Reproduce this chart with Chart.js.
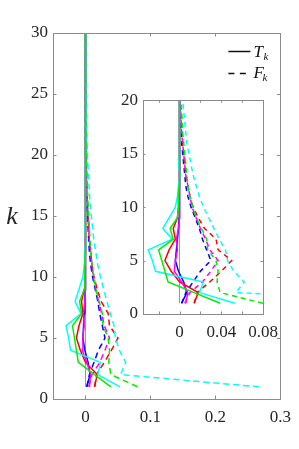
<!DOCTYPE html>
<html>
<head>
<meta charset="utf-8">
<script src="https://cdn.jsdelivr.net/npm/chart.js@4"></script>
<style>
  html, body { margin: 0; padding: 0; background: #fff; }
  #wrap { position: relative; width: 299px; height: 449px; overflow: hidden; }
  #mainChart { position: absolute; left: 0; top: 0; }
  #insetChart { position: absolute; left: 100px; top: 85px; }
</style>
</head>
<body>
<div id="wrap">
  <canvas id="mainChart" width="299" height="449"></canvas>
  <canvas id="insetChart" width="195" height="260"></canvas>
</div>
<script>
// k index (vertical axis)
const kValues = [1, 2, 3, 4, 5, 6, 7, 8, 9, 10, 11, 12, 13, 14, 15, 16, 17, 18, 19, 20,
                 21, 22, 23, 24, 25, 26, 27, 28, 29, 30];

// T_k (solid) per colour
const blueT    = [0.002, 0.007, 0.004, -0.001, -0.004, -0.003, -0.002, -0.001, -0.0005, 0, 0, 0, 0, 0, 0, 0, 0, 0, 0, 0, 0, 0, 0, 0, 0, 0, 0, 0, 0, 0];
const redT     = [0.014, 0.018, 0.000, -0.008, -0.014, -0.010, -0.004, -0.006, -0.002, -0.001, -0.001, 0, 0, 0, 0, 0, 0, 0, 0, 0, 0, 0, 0, 0, 0, 0, 0, 0, 0, 0];
const magentaT = [0.006, 0.008, 0.002, -0.005, -0.004, -0.002, -0.003, -0.001, 0, 0, 0, 0, 0, 0, 0, 0, 0, 0, 0, 0, 0, 0, 0, 0, 0, 0, 0, 0, 0, 0];
const greenT   = [0.039, 0.014, -0.011, -0.014, -0.017, -0.020, -0.006, -0.009, -0.002, -0.001, -0.001, -0.0005, 0, 0, 0, 0, 0, 0, 0, 0, 0, 0, 0, 0, 0, 0, 0, 0, 0, 0];
const cyanT    = [0.053, 0.019, 0.023, -0.023, -0.026, -0.030, -0.007, -0.016, -0.010, -0.004, -0.002, -0.001, 0.0005, -0.001, 0, 0, 0, 0, 0, 0, 0, 0, 0, 0, 0, 0, 0, 0, 0, 0];
const zeroLine = [0, 0, 0, 0, 0, 0, 0, 0, 0, 0, 0, 0, 0, 0, 0, 0, 0, 0, 0, 0, 0, 0, 0, 0, 0, 0, 0, 0, 0, 0];

// F_k (dashed) per colour
const blueF    = [0.002, 0.006, 0.013, 0.020, 0.030, 0.026, 0.022, 0.019, 0.015, 0.011, 0.008, 0.006, 0.005, 0.004, 0.003, 0.002, 0.0015, 0.001, 0.0005, 0.0003, 0, 0, 0, 0, 0, 0, 0, 0, 0, 0];
const redF     = [0.014, 0.017, 0.029, 0.040, 0.050, 0.037, 0.035, 0.024, 0.018, 0.013, 0.010, 0.008, 0.006, 0.005, 0.004, 0.003, 0.0025, 0.002, 0.0015, 0.001, 0.0008, 0.0005, 0.0003, 0, 0, 0, 0, 0, 0, 0];
const magentaF = [0.005, 0.010, 0.022, 0.030, 0.037, 0.029, 0.025, 0.020, 0.016, 0.012, 0.010, 0.008, 0.006, 0.005, 0.004, 0.003, 0.002, 0.0015, 0.001, 0.0005, 0, 0, 0, 0, 0, 0, 0, 0, 0, 0];
const greenF   = [0.080, 0.039, 0.036, 0.037, 0.035, 0.027, 0.026, 0.021, 0.016, 0.013, 0.010, 0.008, 0.007, 0.006, 0.005, 0.004, 0.003, 0.0025, 0.002, 0.0015, 0.001, 0.0008, 0.0005, 0.0003, 0.0002, 0.0001, 0, 0, 0, 0];
const cyanF    = [0.267, 0.054, 0.062, 0.052, 0.046, 0.044, 0.038, 0.033, 0.028, 0.023, 0.019, 0.016, 0.013, 0.011, 0.009, 0.007, 0.006, 0.005, 0.004, 0.003, 0.0025, 0.002, 0.0015, 0.001, 0.0008, 0.0005, 0.0003, 0.0002, 0.0001, 0];

// ticks
const mainXTicks = [0, 0.1, 0.2, 0.3];
const mainXLabels = ['0', '0.1', '0.2', '0.3'];
const mainYTicks = [0, 5, 10, 15, 20, 25, 30];
const insetXTicks = [-0.02, 0, 0.02, 0.04, 0.06, 0.08];
const insetXLabels = ['', '0', '', '0.04', '', '0.08'];
const insetYTicks = [0, 5, 10, 15, 20];

const axisColor = '#8a8a8a';
const textColor = '#262626';
const serif = "'Liberation Serif', 'Times New Roman', serif";

Chart.defaults.font.family = serif;
Chart.defaults.font.size = 17;
Chart.defaults.color = textColor;

const series = [
  { data: zeroLine, color: '#9a9a9a', dashed: false, width: 1 },
  { data: blueT, color: '#0000ff', dashed: false },
  { data: blueF, color: '#0000ff', dashed: true },
  { data: redT, color: '#ff0000', dashed: false },
  { data: redF, color: '#ff0000', dashed: true },
  { data: magentaT, color: '#ff00ff', dashed: false },
  { data: magentaF, color: '#ff00ff', dashed: true },
  { data: cyanT, color: '#00ffff', dashed: false },
  { data: cyanF, color: '#00ffff', dashed: true },
  { data: greenT, color: '#00f000', dashed: false },
  { data: greenF, color: '#00f000', dashed: true }
];

function makeDatasets(dash) {
  return series.map((s, i) => ({
    data: s.data.map((v, j) => ({ x: v, y: kValues[j] })),
    borderColor: s.color,
    borderWidth: s.width || 1.5,
    borderDash: s.dashed ? dash : [],
    pointRadius: 0,
    tension: 0,
    fill: false,
    order: series.length - i
  }));
}

// MATLAB-like box with inward ticks
function boxPlugin(tickLen, white) {
  return {
    id: 'box',
    beforeDraw(chart) {
      if (!white) return;
      const a = chart.chartArea;
      const ctx = chart.ctx;
      ctx.save();
      ctx.fillStyle = '#fff';
      ctx.fillRect(a.left, a.top, a.right - a.left, a.bottom - a.top);
      ctx.restore();
    },
    afterDraw(chart) {
      const { ctx, chartArea: a, scales } = chart;
      ctx.save();
      ctx.strokeStyle = axisColor;
      ctx.lineWidth = 1;
      ctx.strokeRect(Math.round(a.left) + 0.5, Math.round(a.top) + 0.5,
                     Math.round(a.right - a.left), Math.round(a.bottom - a.top));
      ctx.beginPath();
      scales.x.ticks.forEach(t => {
        const px = Math.round(scales.x.getPixelForValue(t.value)) + 0.5;
        ctx.moveTo(px, a.bottom); ctx.lineTo(px, a.bottom - tickLen);
        ctx.moveTo(px, a.top); ctx.lineTo(px, a.top + tickLen);
      });
      scales.y.ticks.forEach(t => {
        const py = Math.round(scales.y.getPixelForValue(t.value)) + 0.5;
        ctx.moveTo(a.left, py); ctx.lineTo(a.left + tickLen, py);
        ctx.moveTo(a.right, py); ctx.lineTo(a.right - tickLen, py);
      });
      ctx.stroke();
      ctx.restore();
    }
  };
}

const labelPlugin = {
  id: 'labels',
  afterDraw(chart) {
    const ctx = chart.ctx;
    const a = chart.chartArea;
    ctx.save();
    // y title, upright
    ctx.fillStyle = textColor;
    ctx.font = 'italic 26px ' + serif;
    ctx.textAlign = 'center';
    ctx.textBaseline = 'alphabetic';
    ctx.fillText('k', 12, 224);

    // legend
    const lx = a.right - 52;
    ctx.strokeStyle = '#111';
    ctx.lineWidth = 1.5;
    ctx.beginPath();
    ctx.moveTo(lx, 51.5); ctx.lineTo(lx + 22, 51.5);
    ctx.stroke();
    ctx.setLineDash([6, 5.5]);
    ctx.beginPath();
    ctx.moveTo(lx, 73.5); ctx.lineTo(lx + 20, 73.5);
    ctx.stroke();
    ctx.setLineDash([]);
    ctx.fillStyle = '#111';
    ctx.textAlign = 'left';
    ctx.font = 'italic 17px ' + serif;
    ctx.fillText('T', lx + 25, 57);
    ctx.fillText('F', lx + 25, 78);
    ctx.font = 'italic 11px ' + serif;
    ctx.fillText('k', lx + 35, 60);
    ctx.fillText('k', lx + 34, 81);
    ctx.restore();
  }
};

function axes(xMin, xMax, xTicks, xLabels, yMax, yTicks, yWidth, xHeight) {
  return {
    x: {
      type: 'linear', min: xMin, max: xMax,
      grid: { display: false, drawTicks: false }, border: { display: false },
      afterBuildTicks: s => { s.ticks = xTicks.map(v => ({ value: v })); },
      afterFit: s => { s.height = xHeight; },
      ticks: { autoSkip: false, maxRotation: 0, padding: 8,
               callback: (v, i) => xLabels[i] }
    },
    y: {
      type: 'linear', min: 0, max: yMax,
      grid: { display: false, drawTicks: false }, border: { display: false },
      afterBuildTicks: s => { s.ticks = yTicks.map(v => ({ value: v })); },
      afterFit: s => { s.width = yWidth; },
      ticks: { autoSkip: false, padding: 5, callback: v => String(v) }
    }
  };
}

new Chart(document.getElementById('mainChart').getContext('2d'), {
  type: 'line',
  data: { datasets: makeDatasets([6, 4]) },
  options: {
    responsive: false,
    animation: false,
    layout: { padding: { top: 33, right: 14, left: 0, bottom: 0 } },
    plugins: { legend: { display: false }, tooltip: { enabled: false } },
    scales: axes(-0.05, 0.3, mainXTicks, mainXLabels, 30, mainYTicks, 53, 50)
  },
  plugins: [boxPlugin(3.5, false), labelPlugin]
});

new Chart(document.getElementById('insetChart').getContext('2d'), {
  type: 'line',
  data: { datasets: makeDatasets([5, 4]) },
  options: {
    responsive: false,
    animation: false,
    layout: { padding: { top: 14, right: 32, left: 0, bottom: 0 } },
    plugins: { legend: { display: false }, tooltip: { enabled: false } },
    scales: axes(-0.035, 0.08, insetXTicks, insetXLabels, 20, insetYTicks, 43, 31)
  },
  plugins: [boxPlugin(2.5, true)]
});
</script>
</body>
</html>
